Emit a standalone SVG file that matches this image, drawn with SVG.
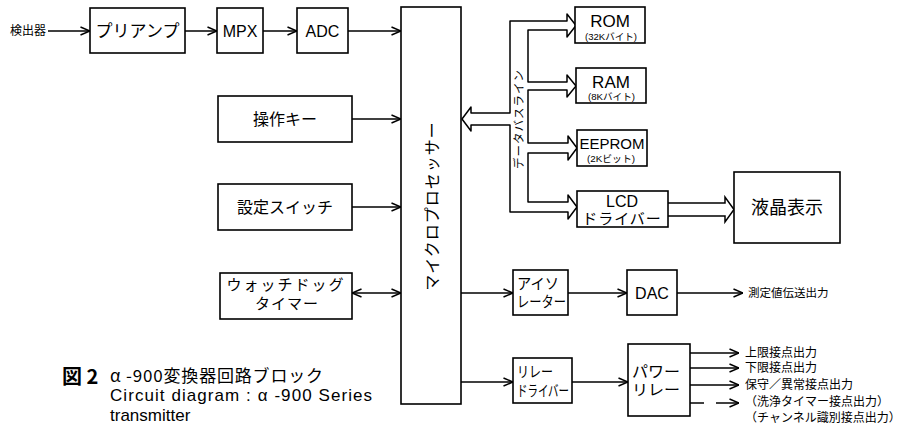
<svg xmlns="http://www.w3.org/2000/svg" width="904" height="429" viewBox="0 0 904 429">
<style>
.box{fill:#fff;stroke:#000;stroke-width:1.6}
.ln{fill:none;stroke:#000;stroke-width:1.5}
.t{font-family:"Liberation Sans","Noto Sans CJK JP",sans-serif;fill:#000;text-anchor:middle;dominant-baseline:central}
.l{font-family:"Liberation Sans","Noto Sans CJK JP",sans-serif;fill:#000;dominant-baseline:central}
.j{font-family:"Noto Sans CJK JP","Liberation Sans",sans-serif;fill:#000}
.s{font-family:"Liberation Sans","Noto Sans CJK JP",sans-serif;fill:#000;dominant-baseline:central;font-size:9.5px}
</style>
<defs>
<marker id="arr" viewBox="0 0 10 10" refX="10" refY="5" markerWidth="10" markerHeight="10" markerUnits="userSpaceOnUse" orient="auto-start-reverse">
<path d="M0.5,1 L10,5 L0.5,9" fill="none" stroke="#000" stroke-width="1.5"/>
</marker>
</defs>
<g id="connectors">
<line class="ln" x1="48" y1="31" x2="90" y2="31" marker-end="url(#arr)"/>
<line class="ln" x1="185" y1="31" x2="217" y2="31" marker-end="url(#arr)"/>
<line class="ln" x1="263" y1="31" x2="297" y2="31" marker-end="url(#arr)"/>
<line class="ln" x1="348" y1="31" x2="401" y2="31" marker-end="url(#arr)"/>
<line class="ln" x1="352" y1="119" x2="401" y2="119" marker-end="url(#arr)"/>
<line class="ln" x1="352" y1="207" x2="401" y2="207" marker-end="url(#arr)"/>
<line class="ln" x1="352" y1="293" x2="401" y2="293" marker-start="url(#arr)" marker-end="url(#arr)"/>
<path class="ln" stroke-linejoin="round" d="M462,119 L471,107 L471,113 L510,113 L510,21 L567,21 L567,14 L576,25.5 L567,37 L567,30 L528,30 L528,82 L567,82 L567,75 L576,86 L567,97 L567,90 L528,90 L528,143 L568,143 L568,136 L577,148 L568,160 L568,153 L528,153 L528,202 L568,202 L568,195 L577,207 L568,219 L568,212 L510,212 L510,125 L471,125 L471,131 Z"/>
<polyline class="ln" points="668,203 725,203 725,197 734,209.5 725,222 725,216 668,216"/>
<line class="ln" x1="461" y1="293" x2="513" y2="293" marker-end="url(#arr)"/>
<line class="ln" x1="568" y1="293" x2="627" y2="293" marker-end="url(#arr)"/>
<line class="ln" x1="677" y1="293" x2="743" y2="293" marker-end="url(#arr)"/>
<line class="ln" x1="461" y1="382" x2="513" y2="382" marker-end="url(#arr)"/>
<line class="ln" x1="572" y1="382" x2="628" y2="382" marker-end="url(#arr)"/>
<line class="ln" x1="690" y1="353" x2="739" y2="353" marker-end="url(#arr)"/>
<line class="ln" x1="690" y1="368" x2="739" y2="368" marker-end="url(#arr)"/>
<line class="ln" x1="690" y1="385" x2="739" y2="385" marker-end="url(#arr)"/>
<line class="ln" x1="690" y1="403" x2="704" y2="403"/>
<line class="ln" x1="716" y1="403" x2="739" y2="403" marker-end="url(#arr)"/>
<text class="t" font-size="11.5" letter-spacing="1" transform="translate(519,119) rotate(-90)">データバスライン</text>
</g>
<g id="detector"><text class="l" x="10" y="31" font-size="12">検出器</text></g>
<g id="preamp"><rect class="box" x="90" y="8" width="95" height="45"/><text class="t" x="137.5" y="31" font-size="17">プリアンプ</text></g>
<g id="mpx"><rect class="box" x="217" y="8" width="46" height="45"/><text class="t" x="240" y="31" font-size="16">MPX</text></g>
<g id="adc"><rect class="box" x="297" y="8" width="51" height="45"/><text class="t" x="322.5" y="31" font-size="16">ADC</text></g>
<g id="keys"><rect class="box" x="218" y="96" width="134" height="46"/><text class="t" x="285" y="119" font-size="16">操作キー</text></g>
<g id="switch"><rect class="box" x="218" y="184" width="134" height="46"/><text class="t" x="285" y="207" font-size="16">設定スイッチ</text></g>
<g id="watchdog"><rect class="box" x="220" y="273" width="132" height="46"/><text class="t" x="286" y="284" font-size="15" letter-spacing="2">ウォッチドッグ</text><text class="t" x="287" y="303" font-size="15" letter-spacing="1">タイマー</text></g>
<g id="mpu"><rect class="box" x="401" y="7" width="60" height="397"/><text class="t" font-size="16" letter-spacing="1" transform="translate(432,206) rotate(-90)">マイクロプロセッサー</text></g>
<g id="rom"><rect class="box" x="575" y="7" width="70" height="36"/><text class="t" x="610" y="21" font-size="17">ROM</text><text class="s" x="585" y="36" textLength="52" lengthAdjust="spacingAndGlyphs">(32Kバイト)</text></g>
<g id="ram"><rect class="box" x="576" y="68" width="70" height="35"/><text class="t" x="611" y="82" font-size="17">RAM</text><text class="s" x="588" y="96" textLength="47" lengthAdjust="spacingAndGlyphs">(8Kバイト)</text></g>
<g id="eeprom"><rect class="box" x="577" y="130" width="70" height="36"/><text class="t" x="612" y="143" font-size="15">EEPROM</text><text class="s" x="587" y="158" textLength="48" lengthAdjust="spacingAndGlyphs">(2Kビット)</text></g>
<g id="lcd"><rect class="box" x="577" y="191" width="91" height="36"/><text class="t" x="622" y="201" font-size="16">LCD</text><text class="t" x="622" y="218" font-size="15" letter-spacing="1">ドライバー</text></g>
<g id="display"><rect class="box" x="734" y="172" width="106" height="71"/><text class="t" x="787" y="208" font-size="18">液晶表示</text></g>
<g id="isolator"><rect class="box" x="513" y="270" width="55" height="45"/><text class="l" x="517" y="283" font-size="15" textLength="42" lengthAdjust="spacingAndGlyphs">アイソ</text><text class="l" x="517" y="301" font-size="15" textLength="49" lengthAdjust="spacingAndGlyphs">レーター</text></g>
<g id="dac"><rect class="box" x="627" y="270" width="50" height="45"/><text class="t" x="652" y="293" font-size="16">DAC</text></g>
<g id="relaydriver"><rect class="box" x="513" y="358" width="59" height="45"/><text class="l" x="517" y="371" font-size="15" textLength="36" lengthAdjust="spacingAndGlyphs">リレー</text><text class="l" x="517" y="390" font-size="15" textLength="52" lengthAdjust="spacingAndGlyphs">ドライバー</text></g>
<g id="powerrelay"><rect class="box" x="628" y="344" width="62" height="72"/><text class="l" x="632" y="371" font-size="15" textLength="48" lengthAdjust="spacingAndGlyphs">パワー</text><text class="l" x="632" y="389" font-size="15" textLength="48" lengthAdjust="spacingAndGlyphs">リレー</text></g>
<g id="outputs">
<text class="l" x="748" y="293" font-size="11.5">測定値伝送出力</text>
<text class="l" x="745" y="353" font-size="12">上限接点出力</text>
<text class="l" x="745" y="368" font-size="12">下限接点出力</text>
<text class="l" x="745" y="385" font-size="12">保守／異常接点出力</text>
<text class="l" x="745" y="402" font-size="12">（洗浄タイマー接点出力）</text>
<text class="l" x="745" y="418" font-size="12">（チャンネル識別接点出力）</text>
</g>
<g id="caption">
<text class="j" x="62" y="384" font-size="20" font-weight="bold">図 2</text>
<text class="j" x="110" y="382" font-size="17" textLength="213" lengthAdjust="spacing">α -900変換器回路ブロック</text>
<text x="110" y="401" font-size="17" font-family="Liberation Sans,Noto Sans CJK JP,sans-serif" textLength="262" lengthAdjust="spacing">Circuit diagram : α -900 Series</text>
<text x="110" y="421" font-size="17" font-family="Liberation Sans,sans-serif">transmitter</text>
</g>
</svg>
